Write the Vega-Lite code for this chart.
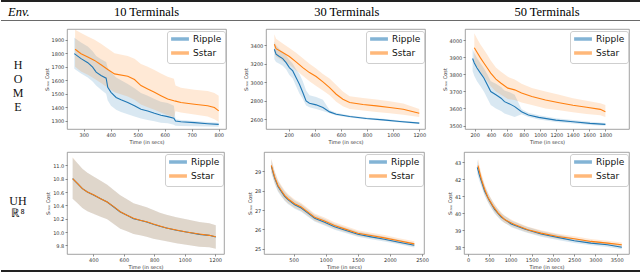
{
"$schema": "https://vega.github.io/schema/vega-lite/v6.json",
"padding": 0,
"background": "white",
"spacing": 0,
"resolve": {"scale": {"color": "independent", "fill": "independent"}, "legend": {"color": "independent", "fill": "independent"}},
"config": {
 "font": "DejaVu Sans",
 "view": {"stroke": "#8c8c8c", "strokeWidth": 0.8},
 "axis": {"domain": false, "grid": false, "labelFont": "DejaVu Sans", "labelFontSize": 5, "labelColor": "#333", "tickColor": "#444", "tickSize": 2, "tickWidth": 0.6, "labelPadding": 1.2, "titleFont": "DejaVu Sans", "titleFontSize": 5, "titleFontWeight": "normal", "titleColor": "#333", "titlePadding": 2, "labelFlush": false, "labelOverlap": false},
 "legend": {"orient": "top-right", "offset": 1.5, "padding": 3, "strokeColor": "#cfcfcf", "fillColor": "#ffffff", "cornerRadius": 2.5, "labelFont": "DejaVu Sans", "labelFontSize": 9, "labelColor": "#111", "symbolType": "M-1.2,0H4.3", "symbolSize": 42, "symbolStrokeWidth": 3.5, "symbolOpacity": 0.55, "rowPadding": 0, "labelOffset": 13}
},
"datasets": {
 "p1": [
  {"algo":"Ripple","t":265,"m":1797,"lo":1685,"hi":1915},
  {"algo":"Ripple","t":290,"m":1760,"lo":1650,"hi":1880},
  {"algo":"Ripple","t":315,"m":1730,"lo":1620,"hi":1850},
  {"algo":"Ripple","t":333,"m":1697,"lo":1590,"hi":1815},
  {"algo":"Ripple","t":346,"m":1660,"lo":1560,"hi":1780},
  {"algo":"Ripple","t":364,"m":1635,"lo":1530,"hi":1755},
  {"algo":"Ripple","t":383,"m":1615,"lo":1500,"hi":1735},
  {"algo":"Ripple","t":389,"m":1547,"lo":1450,"hi":1690},
  {"algo":"Ripple","t":401,"m":1510,"lo":1410,"hi":1660},
  {"algo":"Ripple","t":420,"m":1472,"lo":1380,"hi":1620},
  {"algo":"Ripple","t":438,"m":1455,"lo":1365,"hi":1600},
  {"algo":"Ripple","t":463,"m":1435,"lo":1347,"hi":1572},
  {"algo":"Ripple","t":488,"m":1410,"lo":1330,"hi":1540},
  {"algo":"Ripple","t":512,"m":1385,"lo":1315,"hi":1505},
  {"algo":"Ripple","t":537,"m":1372,"lo":1305,"hi":1485},
  {"algo":"Ripple","t":562,"m":1355,"lo":1295,"hi":1460},
  {"algo":"Ripple","t":586,"m":1340,"lo":1285,"hi":1440},
  {"algo":"Ripple","t":611,"m":1330,"lo":1280,"hi":1430},
  {"algo":"Ripple","t":634,"m":1318,"lo":1270,"hi":1410},
  {"algo":"Ripple","t":640,"m":1297,"lo":1262,"hi":1310},
  {"algo":"Ripple","t":660,"m":1292,"lo":1260,"hi":1305},
  {"algo":"Ripple","t":710,"m":1285,"lo":1258,"hi":1298},
  {"algo":"Ripple","t":759,"m":1277,"lo":1256,"hi":1290},
  {"algo":"Ripple","t":800,"m":1272,"lo":1255,"hi":1285},
  {"algo":"Sstar","t":268,"m":1830,"lo":1700,"hi":1975},
  {"algo":"Sstar","t":290,"m":1797,"lo":1665,"hi":1950},
  {"algo":"Sstar","t":315,"m":1772,"lo":1640,"hi":1925},
  {"algo":"Sstar","t":340,"m":1747,"lo":1610,"hi":1900},
  {"algo":"Sstar","t":364,"m":1715,"lo":1580,"hi":1870},
  {"algo":"Sstar","t":389,"m":1680,"lo":1545,"hi":1835},
  {"algo":"Sstar","t":414,"m":1647,"lo":1510,"hi":1800},
  {"algo":"Sstar","t":463,"m":1630,"lo":1480,"hi":1780},
  {"algo":"Sstar","t":488,"m":1605,"lo":1455,"hi":1760},
  {"algo":"Sstar","t":512,"m":1560,"lo":1420,"hi":1720},
  {"algo":"Sstar","t":537,"m":1535,"lo":1400,"hi":1700},
  {"algo":"Sstar","t":562,"m":1510,"lo":1380,"hi":1675},
  {"algo":"Sstar","t":586,"m":1485,"lo":1360,"hi":1650},
  {"algo":"Sstar","t":611,"m":1460,"lo":1340,"hi":1625},
  {"algo":"Sstar","t":634,"m":1447,"lo":1325,"hi":1610},
  {"algo":"Sstar","t":640,"m":1445,"lo":1370,"hi":1560},
  {"algo":"Sstar","t":660,"m":1435,"lo":1360,"hi":1545},
  {"algo":"Sstar","t":710,"m":1422,"lo":1345,"hi":1530},
  {"algo":"Sstar","t":759,"m":1410,"lo":1330,"hi":1520},
  {"algo":"Sstar","t":784,"m":1397,"lo":1310,"hi":1505},
  {"algo":"Sstar","t":800,"m":1372,"lo":1290,"hi":1485}
 ],
 "p2": [
  {"algo":"Ripple","t":90,"m":3357,"lo":3250,"hi":3440},
  {"algo":"Ripple","t":103,"m":3303,"lo":3220,"hi":3400},
  {"algo":"Ripple","t":128,"m":3278,"lo":3200,"hi":3360},
  {"algo":"Ripple","t":154,"m":3256,"lo":3180,"hi":3330},
  {"algo":"Ripple","t":180,"m":3213,"lo":3140,"hi":3290},
  {"algo":"Ripple","t":205,"m":3159,"lo":3080,"hi":3240},
  {"algo":"Ripple","t":231,"m":3123,"lo":3040,"hi":3200},
  {"algo":"Ripple","t":256,"m":3051,"lo":2960,"hi":3140},
  {"algo":"Ripple","t":282,"m":2979,"lo":2880,"hi":3090},
  {"algo":"Ripple","t":308,"m":2889,"lo":2820,"hi":3010},
  {"algo":"Ripple","t":333,"m":2799,"lo":2750,"hi":2910},
  {"algo":"Ripple","t":359,"m":2774,"lo":2730,"hi":2860},
  {"algo":"Ripple","t":410,"m":2756,"lo":2710,"hi":2840},
  {"algo":"Ripple","t":462,"m":2727,"lo":2690,"hi":2810},
  {"algo":"Ripple","t":513,"m":2680,"lo":2665,"hi":2700},
  {"algo":"Ripple","t":564,"m":2655,"lo":2642,"hi":2670},
  {"algo":"Ripple","t":667,"m":2630,"lo":2620,"hi":2642},
  {"algo":"Ripple","t":795,"m":2608,"lo":2598,"hi":2620},
  {"algo":"Ripple","t":923,"m":2594,"lo":2584,"hi":2605},
  {"algo":"Ripple","t":1051,"m":2576,"lo":2566,"hi":2587},
  {"algo":"Ripple","t":1200,"m":2558,"lo":2548,"hi":2568},
  {"algo":"Sstar","t":90,"m":3411,"lo":3330,"hi":3520},
  {"algo":"Sstar","t":103,"m":3364,"lo":3280,"hi":3470},
  {"algo":"Sstar","t":154,"m":3321,"lo":3230,"hi":3420},
  {"algo":"Sstar","t":205,"m":3278,"lo":3190,"hi":3370},
  {"algo":"Sstar","t":256,"m":3220,"lo":3130,"hi":3320},
  {"algo":"Sstar","t":308,"m":3159,"lo":3070,"hi":3260},
  {"algo":"Sstar","t":359,"m":3105,"lo":3010,"hi":3200},
  {"algo":"Sstar","t":410,"m":3062,"lo":2960,"hi":3150},
  {"algo":"Sstar","t":462,"m":3004,"lo":2910,"hi":3090},
  {"algo":"Sstar","t":513,"m":2943,"lo":2860,"hi":3040},
  {"algo":"Sstar","t":564,"m":2871,"lo":2790,"hi":2970},
  {"algo":"Sstar","t":615,"m":2817,"lo":2740,"hi":2900},
  {"algo":"Sstar","t":667,"m":2781,"lo":2710,"hi":2850},
  {"algo":"Sstar","t":769,"m":2759,"lo":2695,"hi":2830},
  {"algo":"Sstar","t":872,"m":2745,"lo":2680,"hi":2815},
  {"algo":"Sstar","t":974,"m":2727,"lo":2665,"hi":2795},
  {"algo":"Sstar","t":1077,"m":2709,"lo":2650,"hi":2770},
  {"algo":"Sstar","t":1200,"m":2666,"lo":2625,"hi":2710}
 ],
 "p3": [
  {"algo":"Ripple","t":175,"m":3892,"lo":3820,"hi":3950},
  {"algo":"Ripple","t":196,"m":3866,"lo":3790,"hi":3925},
  {"algo":"Ripple","t":229,"m":3837,"lo":3760,"hi":3895},
  {"algo":"Ripple","t":271,"m":3807,"lo":3730,"hi":3865},
  {"algo":"Ripple","t":313,"m":3778,"lo":3700,"hi":3835},
  {"algo":"Ripple","t":355,"m":3739,"lo":3660,"hi":3800},
  {"algo":"Ripple","t":397,"m":3699,"lo":3620,"hi":3760},
  {"algo":"Ripple","t":460,"m":3680,"lo":3600,"hi":3745},
  {"algo":"Ripple","t":523,"m":3660,"lo":3585,"hi":3725},
  {"algo":"Ripple","t":565,"m":3640,"lo":3570,"hi":3705},
  {"algo":"Ripple","t":628,"m":3627,"lo":3560,"hi":3695},
  {"algo":"Ripple","t":690,"m":3611,"lo":3550,"hi":3680},
  {"algo":"Ripple","t":774,"m":3581,"lo":3566,"hi":3595},
  {"algo":"Ripple","t":858,"m":3562,"lo":3550,"hi":3575},
  {"algo":"Ripple","t":984,"m":3548,"lo":3536,"hi":3560},
  {"algo":"Ripple","t":1193,"m":3532,"lo":3521,"hi":3543},
  {"algo":"Ripple","t":1403,"m":3522,"lo":3512,"hi":3532},
  {"algo":"Ripple","t":1612,"m":3513,"lo":3504,"hi":3522},
  {"algo":"Ripple","t":1800,"m":3507,"lo":3499,"hi":3515},
  {"algo":"Sstar","t":196,"m":3955,"lo":3870,"hi":4040},
  {"algo":"Sstar","t":229,"m":3929,"lo":3845,"hi":4010},
  {"algo":"Sstar","t":271,"m":3896,"lo":3815,"hi":3975},
  {"algo":"Sstar","t":313,"m":3866,"lo":3785,"hi":3945},
  {"algo":"Sstar","t":355,"m":3837,"lo":3760,"hi":3915},
  {"algo":"Sstar","t":397,"m":3807,"lo":3730,"hi":3880},
  {"algo":"Sstar","t":460,"m":3772,"lo":3700,"hi":3840},
  {"algo":"Sstar","t":523,"m":3748,"lo":3680,"hi":3815},
  {"algo":"Sstar","t":607,"m":3719,"lo":3655,"hi":3785},
  {"algo":"Sstar","t":690,"m":3709,"lo":3650,"hi":3770},
  {"algo":"Sstar","t":774,"m":3690,"lo":3635,"hi":3745},
  {"algo":"Sstar","t":900,"m":3670,"lo":3620,"hi":3720},
  {"algo":"Sstar","t":1067,"m":3650,"lo":3600,"hi":3700},
  {"algo":"Sstar","t":1235,"m":3634,"lo":3590,"hi":3680},
  {"algo":"Sstar","t":1403,"m":3619,"lo":3578,"hi":3660},
  {"algo":"Sstar","t":1570,"m":3607,"lo":3568,"hi":3645},
  {"algo":"Sstar","t":1738,"m":3595,"lo":3560,"hi":3630},
  {"algo":"Sstar","t":1800,"m":3581,"lo":3550,"hi":3620}
 ],
 "p4": [
  {"algo":"Ripple","t":264,"m":10.8,"lo":10.5,"hi":11.11},
  {"algo":"Ripple","t":296,"m":10.725,"lo":10.43,"hi":11.03},
  {"algo":"Ripple","t":328,"m":10.65,"lo":10.36,"hi":10.95},
  {"algo":"Ripple","t":361,"m":10.6,"lo":10.31,"hi":10.89},
  {"algo":"Ripple","t":404,"m":10.55,"lo":10.27,"hi":10.83},
  {"algo":"Ripple","t":448,"m":10.5,"lo":10.23,"hi":10.77},
  {"algo":"Ripple","t":491,"m":10.45,"lo":10.19,"hi":10.71},
  {"algo":"Ripple","t":534,"m":10.375,"lo":10.12,"hi":10.63},
  {"algo":"Ripple","t":577,"m":10.3,"lo":10.05,"hi":10.55},
  {"algo":"Ripple","t":621,"m":10.25,"lo":10.01,"hi":10.49},
  {"algo":"Ripple","t":664,"m":10.2,"lo":9.97,"hi":10.43},
  {"algo":"Ripple","t":707,"m":10.175,"lo":9.95,"hi":10.4},
  {"algo":"Ripple","t":750,"m":10.15,"lo":9.93,"hi":10.37},
  {"algo":"Ripple","t":794,"m":10.115,"lo":9.9,"hi":10.33},
  {"algo":"Ripple","t":837,"m":10.085,"lo":9.88,"hi":10.29},
  {"algo":"Ripple","t":880,"m":10.06,"lo":9.86,"hi":10.26},
  {"algo":"Ripple","t":945,"m":10.025,"lo":9.83,"hi":10.22},
  {"algo":"Ripple","t":1010,"m":10.0,"lo":9.81,"hi":10.19},
  {"algo":"Ripple","t":1096,"m":9.965,"lo":9.78,"hi":10.15},
  {"algo":"Ripple","t":1161,"m":9.95,"lo":9.77,"hi":10.13},
  {"algo":"Ripple","t":1204,"m":9.925,"lo":9.75,"hi":10.1},
  {"algo":"Sstar","t":264,"m":10.8,"lo":10.5,"hi":11.12},
  {"algo":"Sstar","t":296,"m":10.73,"lo":10.43,"hi":11.03},
  {"algo":"Sstar","t":328,"m":10.65,"lo":10.36,"hi":10.95},
  {"algo":"Sstar","t":361,"m":10.6,"lo":10.31,"hi":10.89},
  {"algo":"Sstar","t":404,"m":10.555,"lo":10.27,"hi":10.83},
  {"algo":"Sstar","t":448,"m":10.5,"lo":10.23,"hi":10.77},
  {"algo":"Sstar","t":491,"m":10.45,"lo":10.19,"hi":10.71},
  {"algo":"Sstar","t":534,"m":10.38,"lo":10.12,"hi":10.63},
  {"algo":"Sstar","t":577,"m":10.305,"lo":10.05,"hi":10.55},
  {"algo":"Sstar","t":621,"m":10.25,"lo":10.01,"hi":10.49},
  {"algo":"Sstar","t":664,"m":10.205,"lo":9.97,"hi":10.43},
  {"algo":"Sstar","t":707,"m":10.175,"lo":9.95,"hi":10.4},
  {"algo":"Sstar","t":750,"m":10.155,"lo":9.93,"hi":10.37},
  {"algo":"Sstar","t":794,"m":10.12,"lo":9.9,"hi":10.33},
  {"algo":"Sstar","t":837,"m":10.09,"lo":9.88,"hi":10.29},
  {"algo":"Sstar","t":880,"m":10.06,"lo":9.86,"hi":10.26},
  {"algo":"Sstar","t":945,"m":10.03,"lo":9.83,"hi":10.22},
  {"algo":"Sstar","t":1010,"m":10.0,"lo":9.81,"hi":10.19},
  {"algo":"Sstar","t":1096,"m":9.97,"lo":9.78,"hi":10.15},
  {"algo":"Sstar","t":1161,"m":9.95,"lo":9.77,"hi":10.13},
  {"algo":"Sstar","t":1204,"m":9.93,"lo":9.75,"hi":10.1}
 ],
 "p5": [
  {"algo":"Ripple","t":153,"m":29.25,"lo":28.92,"hi":29.6},
  {"algo":"Ripple","t":205,"m":28.64,"lo":28.35,"hi":28.95},
  {"algo":"Ripple","t":257,"m":28.21,"lo":27.94,"hi":28.49},
  {"algo":"Ripple","t":308,"m":27.95,"lo":27.7,"hi":28.21},
  {"algo":"Ripple","t":360,"m":27.7,"lo":27.47,"hi":27.95},
  {"algo":"Ripple","t":412,"m":27.53,"lo":27.31,"hi":27.76},
  {"algo":"Ripple","t":516,"m":27.27,"lo":27.07,"hi":27.48},
  {"algo":"Ripple","t":619,"m":27.1,"lo":26.91,"hi":27.3},
  {"algo":"Ripple","t":723,"m":26.84,"lo":26.66,"hi":27.03},
  {"algo":"Ripple","t":827,"m":26.58,"lo":26.41,"hi":26.76},
  {"algo":"Ripple","t":982,"m":26.37,"lo":26.21,"hi":26.54},
  {"algo":"Ripple","t":1137,"m":26.14,"lo":25.99,"hi":26.3},
  {"algo":"Ripple","t":1293,"m":25.97,"lo":25.83,"hi":26.12},
  {"algo":"Ripple","t":1500,"m":25.75,"lo":25.62,"hi":25.89},
  {"algo":"Ripple","t":1707,"m":25.62,"lo":25.5,"hi":25.75},
  {"algo":"Ripple","t":1914,"m":25.5,"lo":25.38,"hi":25.63},
  {"algo":"Ripple","t":2121,"m":25.36,"lo":25.25,"hi":25.48},
  {"algo":"Ripple","t":2380,"m":25.19,"lo":25.08,"hi":25.31},
  {"algo":"Sstar","t":153,"m":29.29,"lo":28.95,"hi":29.65},
  {"algo":"Sstar","t":205,"m":28.69,"lo":28.4,"hi":29.0},
  {"algo":"Sstar","t":257,"m":28.26,"lo":27.99,"hi":28.55},
  {"algo":"Sstar","t":308,"m":28.0,"lo":27.74,"hi":28.27},
  {"algo":"Sstar","t":360,"m":27.75,"lo":27.51,"hi":28.01},
  {"algo":"Sstar","t":412,"m":27.58,"lo":27.35,"hi":27.82},
  {"algo":"Sstar","t":516,"m":27.32,"lo":27.11,"hi":27.54},
  {"algo":"Sstar","t":619,"m":27.15,"lo":26.95,"hi":27.36},
  {"algo":"Sstar","t":723,"m":26.89,"lo":26.7,"hi":27.09},
  {"algo":"Sstar","t":827,"m":26.63,"lo":26.45,"hi":26.82},
  {"algo":"Sstar","t":982,"m":26.43,"lo":26.26,"hi":26.61},
  {"algo":"Sstar","t":1137,"m":26.2,"lo":26.04,"hi":26.37},
  {"algo":"Sstar","t":1293,"m":26.03,"lo":25.88,"hi":26.19},
  {"algo":"Sstar","t":1500,"m":25.81,"lo":25.67,"hi":25.96},
  {"algo":"Sstar","t":1707,"m":25.69,"lo":25.56,"hi":25.83},
  {"algo":"Sstar","t":1914,"m":25.57,"lo":25.44,"hi":25.71},
  {"algo":"Sstar","t":2121,"m":25.43,"lo":25.31,"hi":25.56},
  {"algo":"Sstar","t":2380,"m":25.26,"lo":25.14,"hi":25.39}
 ],
 "p6": [
  {"algo":"Ripple","t":219,"m":42.7,"lo":42.3,"hi":43.15},
  {"algo":"Ripple","t":274,"m":42.2,"lo":41.85,"hi":42.58},
  {"algo":"Ripple","t":313,"m":41.9,"lo":41.58,"hi":42.24},
  {"algo":"Ripple","t":391,"m":41.31,"lo":41.02,"hi":41.62},
  {"algo":"Ripple","t":508,"m":40.72,"lo":40.46,"hi":41.0},
  {"algo":"Ripple","t":626,"m":40.22,"lo":39.98,"hi":40.48},
  {"algo":"Ripple","t":782,"m":39.77,"lo":39.56,"hi":40.0},
  {"algo":"Ripple","t":1017,"m":39.37,"lo":39.18,"hi":39.57},
  {"algo":"Ripple","t":1330,"m":39.07,"lo":38.9,"hi":39.25},
  {"algo":"Ripple","t":1720,"m":38.78,"lo":38.62,"hi":38.95},
  {"algo":"Ripple","t":2111,"m":38.58,"lo":38.43,"hi":38.74},
  {"algo":"Ripple","t":2502,"m":38.38,"lo":38.24,"hi":38.53},
  {"algo":"Ripple","t":2893,"m":38.24,"lo":38.11,"hi":38.38},
  {"algo":"Ripple","t":3284,"m":38.14,"lo":38.01,"hi":38.28},
  {"algo":"Ripple","t":3620,"m":38.0,"lo":37.88,"hi":38.13},
  {"algo":"Sstar","t":235,"m":42.8,"lo":42.45,"hi":43.2},
  {"algo":"Sstar","t":274,"m":42.4,"lo":42.07,"hi":42.78},
  {"algo":"Sstar","t":313,"m":42.0,"lo":41.7,"hi":42.35},
  {"algo":"Sstar","t":391,"m":41.41,"lo":41.13,"hi":41.72},
  {"algo":"Sstar","t":469,"m":40.92,"lo":40.66,"hi":41.2},
  {"algo":"Sstar","t":586,"m":40.43,"lo":40.19,"hi":40.69},
  {"algo":"Sstar","t":704,"m":40.02,"lo":39.8,"hi":40.26},
  {"algo":"Sstar","t":860,"m":39.63,"lo":39.43,"hi":39.85},
  {"algo":"Sstar","t":1095,"m":39.33,"lo":39.15,"hi":39.53},
  {"algo":"Sstar","t":1408,"m":39.03,"lo":38.86,"hi":39.21},
  {"algo":"Sstar","t":1720,"m":38.83,"lo":38.67,"hi":39.0},
  {"algo":"Sstar","t":2111,"m":38.63,"lo":38.48,"hi":38.79},
  {"algo":"Sstar","t":2502,"m":38.5,"lo":38.36,"hi":38.65},
  {"algo":"Sstar","t":2893,"m":38.34,"lo":38.21,"hi":38.48},
  {"algo":"Sstar","t":3284,"m":38.24,"lo":38.11,"hi":38.38},
  {"algo":"Sstar","t":3620,"m":38.14,"lo":38.01,"hi":38.28}
 ]
},
"vconcat": [
 {
  "width": 640, "height": 28, "view": {"stroke": null},
  "resolve": {"scale": {"x": "independent"}},
  "layer": [
   {"data": {"values": [{"rule": "top"}]}, "mark": {"type": "rule", "strokeWidth": 2, "color": "#222"}, "encoding": {"y": {"field": "rule", "type": "nominal", "scale": {"type": "point", "padding": 0, "domain": ["top", "header"], "range": [1, 20.5]}, "axis": null}}},
   {"data": {"values": [{"rule": "header"}]}, "mark": {"type": "rule", "strokeWidth": 0.8, "color": "#444"}, "encoding": {"y": {"field": "rule", "type": "nominal", "scale": {"type": "point", "padding": 0, "domain": ["top", "header"], "range": [1, 20.5]}, "axis": null}}},
   {"data": {"values": [{"col": "10 Terminals"}, {"col": "30 Terminals"}, {"col": "50 Terminals"}]}, "mark": {"type": "text", "font": "Liberation Serif", "fontSize": 12.5, "color": "#000", "dy": -2}, "encoding": {"x": {"field": "col", "type": "nominal", "scale": {"type": "point", "padding": 0, "domain": ["10 Terminals", "30 Terminals", "50 Terminals"], "range": [145.5, 546]}, "axis": null}, "text": {"field": "col"}}},
   {"data": {"values": [{"col": "Env."}]}, "mark": {"type": "text", "font": "Liberation Serif", "fontSize": 12.5, "fontStyle": "italic", "align": "left", "color": "#000", "dy": -2}, "encoding": {"x": {"field": "col", "type": "nominal", "scale": {"type": "point", "padding": 0, "domain": ["Env."], "range": [7, 7]}, "axis": null}, "text": {"field": "col"}}}
  ]
 },
 {
  "hconcat": [
   {
    "width": 26, "height": 122, "view": {"stroke": null},
    "data": {"values": [{"env": "H\nO\nM\nE"}]},
    "mark": {"type": "text", "font": "Liberation Serif", "fontSize": 12, "lineHeight": 14, "lineBreak": "\n", "dx": 4, "dy": -25.5, "color": "#111"},
    "encoding": {"text": {"field": "env"}}
   },
   {
    "width": 159, "height": 100, "data": {"name": "p1"},
    "encoding": {"x": {"field": "t", "type": "quantitative", "scale": {"domain": [238, 827], "nice": false, "zero": false}, "axis": {"values": [300, 400, 500, 600, 700, 800], "format": "d", "title": "Time (in secs)"}}},
    "layer": [
     {"mark": {"type": "area", "fillOpacity": 0.17, "clip": true}, "encoding": {"y": {"field": "lo", "type": "quantitative", "scale": {"domain": [1238, 1980], "nice": false, "zero": false}, "axis": {"values": [1300, 1400, 1500, 1600, 1700, 1800, 1900], "format": "d", "title": "Sₜᵣₑₑ Cost"}}, "y2": {"field": "hi"}, "fill": {"field": "algo", "type": "nominal", "scale": {"domain": ["Sstar", "Ripple"], "range": ["#ff7f0e", "#1f77b4"]}, "legend": null}}},
     {"mark": {"type": "line", "strokeWidth": 1.1, "clip": true}, "encoding": {"y": {"field": "m", "type": "quantitative", "scale": {"domain": [1238, 1980], "nice": false, "zero": false}, "axis": {"values": [1300, 1400, 1500, 1600, 1700, 1800, 1900], "format": "d", "title": "Sₜᵣₑₑ Cost"}}, "color": {"field": "algo", "type": "nominal", "scale": {"domain": ["Ripple", "Sstar"], "range": ["#1f77b4", "#ff7f0e"]}, "legend": {"title": null}}}}
    ]
   },
   {
    "width": 159, "height": 100, "data": {"name": "p2"},
    "encoding": {"x": {"field": "t", "type": "quantitative", "scale": {"domain": [26, 1244], "nice": false, "zero": false}, "axis": {"values": [200, 400, 600, 800, 1000, 1200], "format": "d", "title": "Time (in secs)"}}},
    "layer": [
     {"mark": {"type": "area", "fillOpacity": 0.17, "clip": true}, "encoding": {"y": {"field": "lo", "type": "quantitative", "scale": {"domain": [2495, 3576], "nice": false, "zero": false}, "axis": {"values": [2600, 2800, 3000, 3200, 3400], "format": "d", "title": "Sₜᵣₑₑ Cost"}}, "y2": {"field": "hi"}, "fill": {"field": "algo", "type": "nominal", "scale": {"domain": ["Sstar", "Ripple"], "range": ["#ff7f0e", "#1f77b4"]}, "legend": null}}},
     {"mark": {"type": "line", "strokeWidth": 1.1, "clip": true}, "encoding": {"y": {"field": "m", "type": "quantitative", "scale": {"domain": [2495, 3576], "nice": false, "zero": false}, "axis": {"values": [2600, 2800, 3000, 3200, 3400], "format": "d", "title": "Sₜᵣₑₑ Cost"}}, "color": {"field": "algo", "type": "nominal", "scale": {"domain": ["Ripple", "Sstar"], "range": ["#1f77b4", "#ff7f0e"]}, "legend": {"title": null}}}}
    ]
   },
   {
    "width": 164, "height": 100, "data": {"name": "p3"},
    "encoding": {"x": {"field": "t", "type": "quantitative", "scale": {"domain": [82, 2089], "nice": false, "zero": false}, "axis": {"values": [200, 400, 600, 800, 1000, 1200, 1400, 1600, 1800], "format": "d", "title": "Time (in secs)"}}},
    "layer": [
     {"mark": {"type": "area", "fillOpacity": 0.17, "clip": true}, "encoding": {"y": {"field": "lo", "type": "quantitative", "scale": {"domain": [3480, 4065], "nice": false, "zero": false}, "axis": {"values": [3500, 3600, 3700, 3800, 3900, 4000], "format": "d", "title": "Sₜᵣₑₑ Cost"}}, "y2": {"field": "hi"}, "fill": {"field": "algo", "type": "nominal", "scale": {"domain": ["Sstar", "Ripple"], "range": ["#ff7f0e", "#1f77b4"]}, "legend": null}}},
     {"mark": {"type": "line", "strokeWidth": 1.1, "clip": true}, "encoding": {"y": {"field": "m", "type": "quantitative", "scale": {"domain": [3480, 4065], "nice": false, "zero": false}, "axis": {"values": [3500, 3600, 3700, 3800, 3900, 4000], "format": "d", "title": "Sₜᵣₑₑ Cost"}}, "color": {"field": "algo", "type": "nominal", "scale": {"domain": ["Ripple", "Sstar"], "range": ["#1f77b4", "#ff7f0e"]}, "legend": {"title": null}}}}
    ]
   }
  ],
  "spacing": 40, "bounds": "flush",
  "resolve": {"scale": {"color": "independent", "fill": "independent"}, "legend": {"color": "independent", "fill": "independent"}}
 },
 {
  "hconcat": [
   {
    "width": 26, "height": 117, "view": {"stroke": null},
    "data": {"values": [{"env": "UH\nℝ⁸"}]},
    "mark": {"type": "text", "font": "Liberation Serif", "fontSize": 12, "lineHeight": 12.5, "lineBreak": "\n", "dx": 4, "dy": -10, "color": "#111"},
    "encoding": {"text": {"field": "env"}}
   },
   {
    "width": 157, "height": 102, "data": {"name": "p4"},
    "encoding": {"x": {"field": "t", "type": "quantitative", "scale": {"domain": [227, 1258], "nice": false, "zero": false}, "axis": {"values": [400, 600, 800, 1000, 1200], "format": "d", "title": "Time (in secs)"}}},
    "layer": [
     {"mark": {"type": "area", "fillOpacity": 0.17, "clip": true}, "encoding": {"y": {"field": "lo", "type": "quantitative", "scale": {"domain": [9.67, 11.2], "nice": false, "zero": false}, "axis": {"values": [9.8, 10.0, 10.2, 10.4, 10.6, 10.8, 11.0], "format": ".1f", "title": "Sₜᵣₑₑ Cost"}}, "y2": {"field": "hi"}, "fill": {"field": "algo", "type": "nominal", "scale": {"domain": ["Sstar", "Ripple"], "range": ["#ff7f0e", "#1f77b4"]}, "legend": null}}},
     {"mark": {"type": "line", "strokeWidth": 1.1, "clip": true}, "encoding": {"y": {"field": "m", "type": "quantitative", "scale": {"domain": [9.67, 11.2], "nice": false, "zero": false}, "axis": {"values": [9.8, 10.0, 10.2, 10.4, 10.6, 10.8, 11.0], "format": ".1f", "title": "Sₜᵣₑₑ Cost"}}, "color": {"field": "algo", "type": "nominal", "scale": {"domain": ["Ripple", "Sstar"], "range": ["#1f77b4", "#ff7f0e"]}, "legend": {"title": null}}}}
    ]
   },
   {
    "width": 160, "height": 102, "data": {"name": "p5"},
    "encoding": {"x": {"field": "t", "type": "quantitative", "scale": {"domain": [39, 2531], "nice": false, "zero": false}, "axis": {"values": [500, 1000, 1500, 2000, 2500], "format": "d", "title": "Time (in secs)"}}},
    "layer": [
     {"mark": {"type": "area", "fillOpacity": 0.17, "clip": true}, "encoding": {"y": {"field": "lo", "type": "quantitative", "scale": {"domain": [24.74, 29.98], "nice": false, "zero": false}, "axis": {"values": [25, 26, 27, 28, 29], "format": "d", "title": "Sₜᵣₑₑ Cost"}}, "y2": {"field": "hi"}, "fill": {"field": "algo", "type": "nominal", "scale": {"domain": ["Sstar", "Ripple"], "range": ["#ff7f0e", "#1f77b4"]}, "legend": null}}},
     {"mark": {"type": "line", "strokeWidth": 1.1, "clip": true}, "encoding": {"y": {"field": "m", "type": "quantitative", "scale": {"domain": [24.74, 29.98], "nice": false, "zero": false}, "axis": {"values": [25, 26, 27, 28, 29], "format": "d", "title": "Sₜᵣₑₑ Cost"}}, "color": {"field": "algo", "type": "nominal", "scale": {"domain": ["Ripple", "Sstar"], "range": ["#1f77b4", "#ff7f0e"]}, "legend": {"title": null}}}}
    ]
   },
   {
    "width": 165, "height": 102, "data": {"name": "p6"},
    "encoding": {"x": {"field": "t", "type": "quantitative", "scale": {"domain": [-94, 3789], "nice": false, "zero": false}, "axis": {"values": [0, 500, 1000, 1500, 2000, 2500, 3000, 3500], "format": "d", "title": "Time (in secs)"}}},
    "layer": [
     {"mark": {"type": "area", "fillOpacity": 0.17, "clip": true}, "encoding": {"y": {"field": "lo", "type": "quantitative", "scale": {"domain": [37.6, 43.6], "nice": false, "zero": false}, "axis": {"values": [38, 39, 40, 41, 42, 43], "format": "d", "title": "Sₜᵣₑₑ Cost"}}, "y2": {"field": "hi"}, "fill": {"field": "algo", "type": "nominal", "scale": {"domain": ["Sstar", "Ripple"], "range": ["#ff7f0e", "#1f77b4"]}, "legend": null}}},
     {"mark": {"type": "line", "strokeWidth": 1.1, "clip": true}, "encoding": {"y": {"field": "m", "type": "quantitative", "scale": {"domain": [37.6, 43.6], "nice": false, "zero": false}, "axis": {"values": [38, 39, 40, 41, 42, 43], "format": "d", "title": "Sₜᵣₑₑ Cost"}}, "color": {"field": "algo", "type": "nominal", "scale": {"domain": ["Ripple", "Sstar"], "range": ["#1f77b4", "#ff7f0e"]}, "legend": {"title": null}}}}
    ]
   }
  ],
  "spacing": 40, "bounds": "flush",
  "resolve": {"scale": {"color": "independent", "fill": "independent"}, "legend": {"color": "independent", "fill": "independent"}}
 },
 {
  "width": 640, "height": 3, "view": {"stroke": null},
  "data": {"values": [{"rule": "bottom"}]},
  "mark": {"type": "rule", "strokeWidth": 2, "color": "#222"},
  "encoding": {"y": {"field": "rule", "type": "nominal", "scale": {"type": "point", "padding": 0, "domain": ["bottom"], "range": [1, 1]}, "axis": null}}
 }
]
}
